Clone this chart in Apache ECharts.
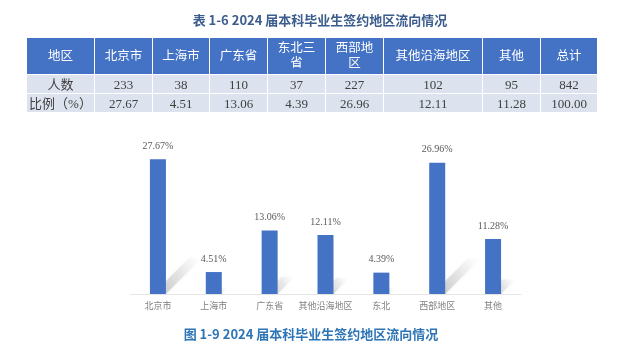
<!DOCTYPE html>
<html>
<head>
<meta charset="utf-8">
<script src="https://cdn.jsdelivr.net/npm/echarts@6/dist/echarts.min.js"></script>
<style>
html,body{margin:0;padding:0;background:#fff;}
#wrap{position:relative;width:640px;height:357px;overflow:hidden;}
#chart{position:absolute;left:0;top:0;width:640px;height:357px;}
#tbl{position:absolute;left:26px;top:37px;border-collapse:collapse;table-layout:fixed;width:571px;
  font-family:"Liberation Serif","Noto Sans CJK SC",serif;font-size:13px;z-index:2;}
#tbl td{border:1.5px solid #fff;text-align:center;padding:0;line-height:15px;}
#tbl tr.h td{background:#4472C4;color:#fff;height:36px;font-size:12.5px;}
#tbl tr.b td{background:#dce3ef;color:#404040;height:18px;}
</style>
</head>
<body>
<div id="wrap">
<div id="chart"></div>
<table id="tbl"></table>
</div>
<script>
// ---- table data ----
const tableHeader = ['地区', '北京市', '上海市', '广东省', '东北三<br>省', '西部地<br>区', '其他沿海地区', '其他', '总计'];
const tableCounts = ['人数', '233', '38', '110', '37', '227', '102', '95', '842'];
const tableRatios = ['比例（%）', '27.67', '4.51', '13.06', '4.39', '26.96', '12.11', '11.28', '100.00'];
const colWidths = [68, 58, 57, 58, 58, 58, 99, 58, 57];

// ---- chart data ----
const categories = ['北京市', '上海市', '广东省', '其他沿海地区', '东北', '西部地区', '其他'];
const values = [27.67, 4.51, 13.06, 12.11, 4.39, 26.96, 11.28];

const titleText = '表 1-6 2024 届本科毕业生签约地区流向情况';
const captionText = '图 1-9 2024 届本科毕业生签约地区流向情况';

// build table
(function () {
  const t = document.getElementById('tbl');
  let html = '<colgroup>' + colWidths.map(w => '<col style="width:' + w + 'px">').join('') + '</colgroup>';
  html += '<tr class="h">' + tableHeader.map(c => '<td>' + c + '</td>').join('') + '</tr>';
  html += '<tr class="b">' + tableCounts.map(c => '<td>' + c + '</td>').join('') + '</tr>';
  html += '<tr class="b">' + tableRatios.map(c => '<td>' + c + '</td>').join('') + '</tr>';
  t.innerHTML = html;
})();

const chart = echarts.init(document.getElementById('chart'));
const shadowData = values.map((v, i) => [i, v]);

chart.setOption({
  animation: false,
  backgroundColor: '#fff',
  graphic: [
    {
      type: 'text', left: 'center', top: 14,
      style: { text: titleText, fill: '#3b5c8c', font: 'bold 13px "Noto Sans CJK SC"' }
    },
    {
      type: 'text', x: 311, y: 334,
      style: { text: captionText, fill: '#2e75b6', font: 'bold 13px "Noto Sans CJK SC"', align: 'center', verticalAlign: 'middle' }
    }
  ],
  grid: { left: 130, right: 119, top: 148, bottom: 63 },
  xAxis: {
    type: 'category',
    data: categories,
    axisLine: { lineStyle: { color: '#e6e6e6', width: 1 } },
    axisTick: { show: false },
    axisLabel: { color: '#808080', fontSize: 9, margin: 7, interval: 0, fontFamily: 'Noto Sans CJK SC' }
  },
  yAxis: { type: 'value', min: 0, max: 30, show: false, splitLine: { show: false } },
  series: [
    {
      type: 'custom',
      z: 1,
      data: shadowData,
      renderItem: function (params, api) {
        const base = api.coord([api.value(0), 0]);
        const top = api.coord([api.value(0), api.value(1)]);
        const h = base[1] - top[1];
        const half = 8;
        const d = h * 0.27;
        const xL = base[0] - half + 3, xR = base[0] + half, y = base[1];
        return {
          type: 'polygon',
          shape: { points: [[xL, y], [xR, y], [xR + d, y - d], [xL + d, y - d]] },
          style: {
            fill: new echarts.graphic.LinearGradient(0, 1, 1, 0, [
              { offset: 0, color: 'rgba(120,120,120,0.45)' },
              { offset: 0.6, color: 'rgba(180,180,180,0.25)' },
              { offset: 1, color: 'rgba(225,225,225,0)' }
            ]),
            shadowBlur: 4,
            shadowColor: 'rgba(160,160,160,0.25)'
          },
          silent: true
        };
      }
    },
    {
      type: 'bar',
      z: 3,
      data: values,
      barWidth: 16,
      itemStyle: { color: '#4472C4' },
      label: {
        show: true,
        position: 'top',
        distance: 8,
        color: '#595959',
        fontSize: 10,
        fontFamily: 'Liberation Serif',
        formatter: p => p.value.toFixed(2) + '%'
      }
    }
  ]
});
</script>
</body>
</html>
